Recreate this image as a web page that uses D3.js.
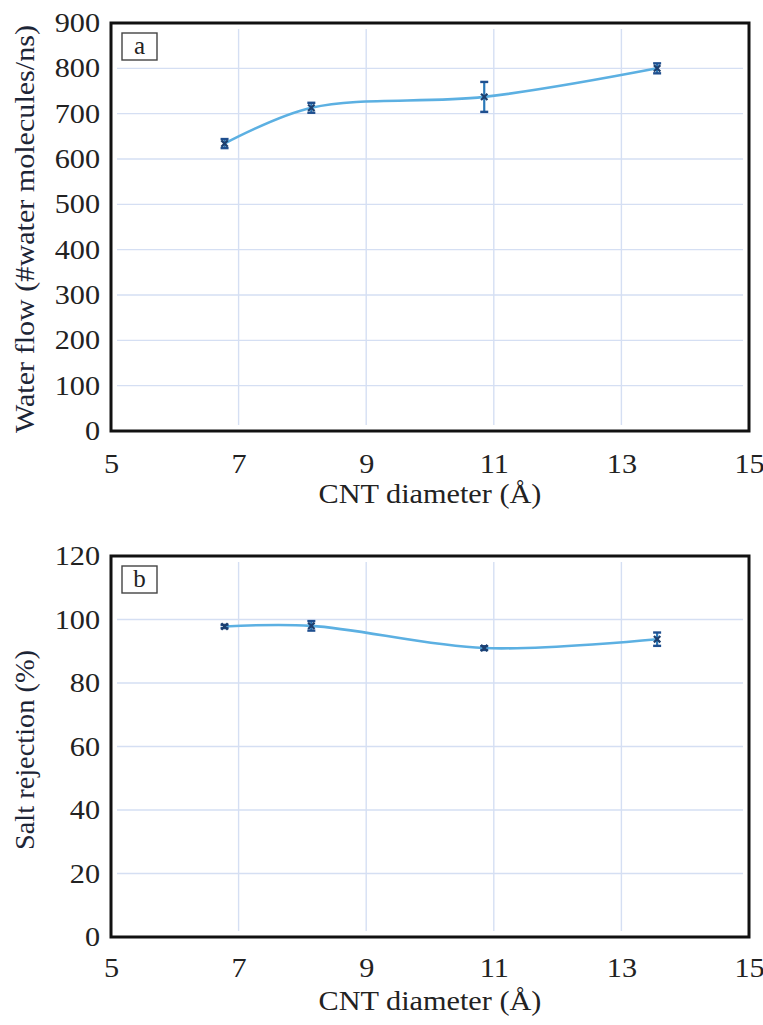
<!DOCTYPE html>
<html><head><meta charset="utf-8">
<script src="https://cdn.jsdelivr.net/npm/d3@7"></script>
<style>body{margin:0;background:#fff}svg{display:block}</style>
</head><body>
<script>
// Data
const diameters = [6.78, 8.14, 10.85, 13.56];
const waterFlow = [634, 713, 737, 800];
const waterFlowErr = [10, 11, 33, 11];
const saltRejection = [97.8, 98.0, 91.0, 93.8];
const saltRejectionErr = [0.5, 1.5, 0.6, 2.1];
const xTicks = [5, 7, 9, 11, 13, 15];
const yTicksA = [0, 100, 200, 300, 400, 500, 600, 700, 800, 900];
const yTicksB = [0, 20, 40, 60, 80, 100, 120];

const FONT = '"Liberation Serif"';
const W = 763, H = 1025;
const svg = d3.select("body").append("svg").attr("width", W).attr("height", H);

function stretch(sel, k) {
  sel.each(function () {
    const t = d3.select(this);
    const len = this.getComputedTextLength();
    t.attr("textLength", len * k).attr("lengthAdjust", "spacingAndGlyphs");
  });
}

function panel(opts) {
  const {top, bottom, yMax, yTicks, vals, errs, label, yTitle, yTitleY, xLabelOff, xTitleOff, yTitleLen} = opts;
  const left = 111, right = 749;
  const x = d3.scaleLinear().domain([5, 15]).range([left, right]);
  const y = d3.scaleLinear().domain([0, yMax]).range([bottom, top]);
  const g = svg.append("g");
  const inset = 6;
  // gridlines
  g.selectAll(".hg").data(yTicks.filter(t => t > 0 && t < yMax)).enter().append("line")
    .attr("x1", left + inset).attr("x2", right - inset)
    .attr("y1", d => y(d)).attr("y2", d => y(d))
    .attr("stroke", "#d5dff3").attr("stroke-width", 1.4);
  g.selectAll(".vg").data(xTicks.filter(t => t > 5 && t < 15)).enter().append("line")
    .attr("y1", top + inset).attr("y2", bottom - inset)
    .attr("x1", d => x(d)).attr("x2", d => x(d))
    .attr("stroke", "#d5dff3").attr("stroke-width", 1.4);
  // frame
  g.append("rect").attr("x", left).attr("y", top).attr("width", right - left).attr("height", bottom - top)
    .attr("fill", "none").attr("stroke", "#111").attr("stroke-width", 3);
  // axes tick labels
  const xa = d3.axisBottom(x).tickValues(xTicks).tickSize(0);
  const gx = g.append("g").attr("transform", `translate(0,${bottom})`).call(xa);
  gx.select(".domain").remove();
  gx.selectAll("text").attr("y", xLabelOff).attr("dy", 0).attr("font-size", 27)
    .style("font-family", FONT).attr("fill", "#222").call(stretch, 1.12);
  const ya = d3.axisLeft(y).tickValues(yTicks).tickSize(0).tickPadding(11);
  const gy = g.append("g").attr("transform", `translate(${left},0)`).call(ya);
  gy.select(".domain").remove();
  gy.selectAll("text").attr("font-size", 27).style("font-family", FONT).attr("fill", "#222").call(stretch, 1.12);
  // titles
  g.append("text").attr("x", 430).attr("y", bottom + xTitleOff).attr("text-anchor", "middle")
    .attr("font-size", 28).style("font-family", FONT).attr("fill", "#222")
    .text("CNT diameter (Å)").call(stretch, 1.08);
  g.append("text").attr("transform", `translate(34,${yTitleY}) rotate(-90)`).attr("text-anchor", "middle")
    .attr("font-size", 28).style("font-family", FONT).attr("fill", "#1d2536")
    .attr("textLength", yTitleLen).attr("lengthAdjust", "spacingAndGlyphs")
    .text(yTitle);
  // panel label box
  g.append("rect").attr("x", 122).attr("y", top + 10).attr("width", 35).attr("height", 27)
    .attr("fill", "#fff").attr("stroke", "#444").attr("stroke-width", 1.4);
  g.append("text").attr("x", 139.5).attr("y", top + 31).attr("text-anchor", "middle")
    .attr("font-size", 25).style("font-family", FONT).attr("fill", "#222").text(label);
  // curve
  const pts = diameters.map((d, i) => [x(d), y(vals[i])]);
  g.append("path").attr("d", d3.line().curve(d3.curveCatmullRom.alpha(0.5))(pts))
    .attr("fill", "none").attr("stroke", "#5cb0e2").attr("stroke-width", 2.6);
  // error bars + markers
  diameters.forEach((d, i) => {
    const cx = x(d), y1 = y(vals[i] + errs[i]), y2 = y(vals[i] - errs[i]);
    g.append("line").attr("x1", cx).attr("x2", cx).attr("y1", y1).attr("y2", y2)
      .attr("stroke", "#2a78b8").attr("stroke-width", 2.2);
    [y1, y2].forEach(yy => g.append("line").attr("x1", cx - 4).attr("x2", cx + 4).attr("y1", yy).attr("y2", yy)
      .attr("stroke", "#1f4f8f").attr("stroke-width", 2.4));
    const m = 3.2;
    const cy = y(vals[i]);
    g.append("path").attr("d", `M${cx - m},${cy - m}L${cx + m},${cy + m}M${cx - m},${cy + m}L${cx + m},${cy - m}`)
      .attr("stroke", "#1d3f6e").attr("stroke-width", 2.2);
  });
}

panel({top: 23, bottom: 431, yMax: 900, yTicks: yTicksA, vals: waterFlow, errs: waterFlowErr,
  label: "a", yTitle: "Water flow (#water molecules/ns)", yTitleY: 229, xLabelOff: 42, xTitleOff: 72, yTitleLen: 408});
panel({top: 556, bottom: 937, yMax: 120, yTicks: yTicksB, vals: saltRejection, errs: saltRejectionErr,
  label: "b", yTitle: "Salt rejection (%)", yTitleY: 750, xLabelOff: 40, xTitleOff: 73, yTitleLen: 200});
</script>
</body></html>
